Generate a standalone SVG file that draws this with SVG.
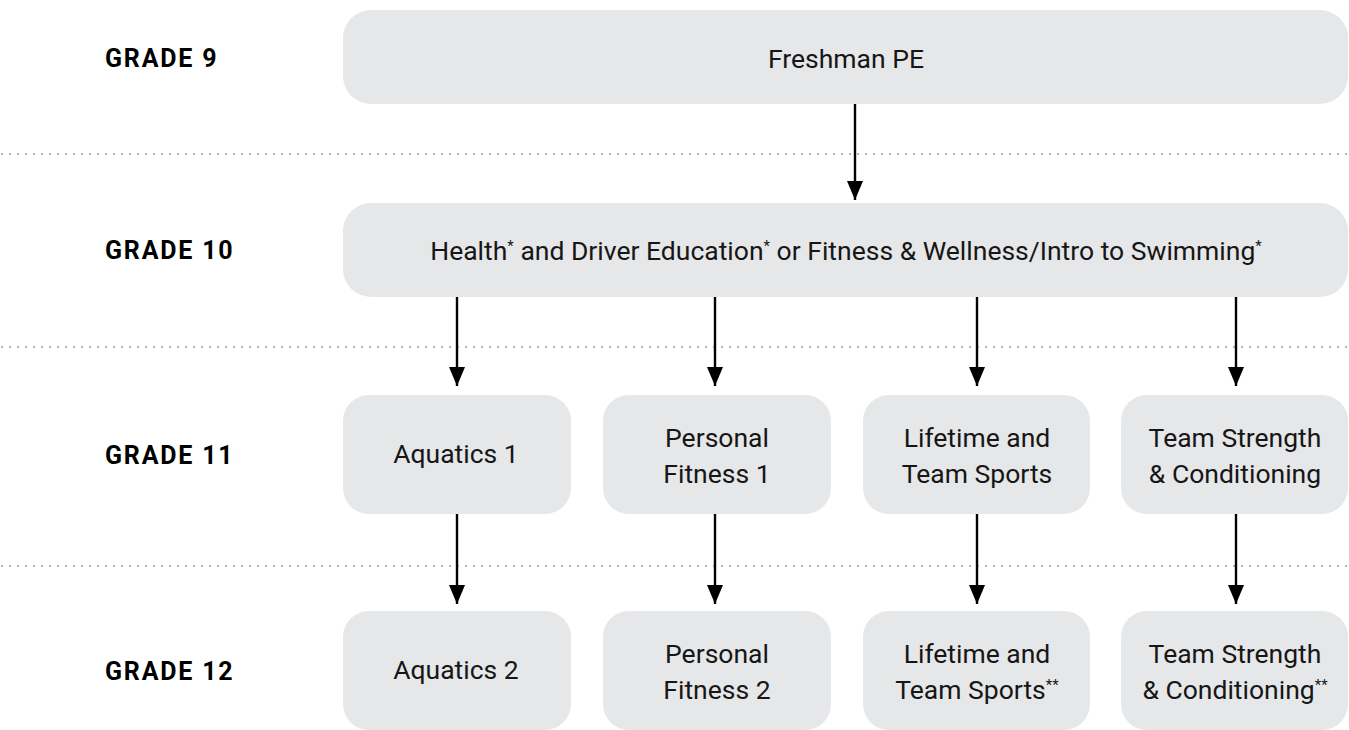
<svg xmlns="http://www.w3.org/2000/svg" width="1349" height="730" viewBox="0 0 1349 730">
<defs>
<style>
.box{fill:#e6e7e9}
.lbl{font-family:Roboto,"Liberation Sans",sans-serif;font-size:26.5px;fill:#161616;text-anchor:middle}
.grade{font-family:Roboto,"Liberation Sans",sans-serif;font-size:25px;font-weight:bold;letter-spacing:1.8px;fill:#000}
.sup{font-size:15px}
.dot{stroke:#b5b5b5;stroke-width:2;stroke-dasharray:2 6;fill:none}
.arr{stroke:#000;stroke-width:2.4;fill:none;marker-end:url(#ah)}
</style>
<marker id="ah" viewBox="0 0 19 16" refX="19" refY="8" markerWidth="19" markerHeight="16" markerUnits="userSpaceOnUse" orient="auto">
<path d="M0,0 L19,8 L0,16 Z" fill="#000"/>
</marker>
</defs>
<g id="separators">
<line class="dot" x1="1" y1="154" x2="1349" y2="154"/>
<line class="dot" x1="1" y1="347" x2="1349" y2="347"/>
<line class="dot" x1="1" y1="566" x2="1349" y2="566"/>
</g>
<g id="labels">
<text class="grade" x="105" y="67">GRADE 9</text>
<text class="grade" x="105" y="259">GRADE 10</text>
<text class="grade" x="105" y="464">GRADE 11</text>
<text class="grade" x="105" y="680">GRADE 12</text>
</g>
<g id="n-freshman"><rect class="box" x="343" y="10" width="1005" height="94" rx="28"/><text class="lbl" x="846" y="68">Freshman PE</text></g>
<g id="n-grade10"><rect class="box" x="343" y="203" width="1005" height="94" rx="28"/><text class="lbl" x="846" y="260">Health<tspan class="sup" dy="-9">*</tspan><tspan dy="9"> and Driver Education</tspan><tspan class="sup" dy="-9">*</tspan><tspan dy="9"> or Fitness &amp; Wellness/Intro to Swimming</tspan><tspan class="sup" dy="-9">*</tspan></text></g>
<g id="n-aq1"><rect class="box" x="343" y="395" width="228" height="119" rx="26"/><text class="lbl" x="456" y="463">Aquatics 1</text></g>
<g id="n-pf1"><rect class="box" x="603" y="395" width="228" height="119" rx="26"/><text class="lbl" x="717" y="447">Personal</text><text class="lbl" x="717" y="483">Fitness 1</text></g>
<g id="n-lts1"><rect class="box" x="863" y="395" width="227" height="119" rx="26"/><text class="lbl" x="977" y="447">Lifetime and</text><text class="lbl" x="977" y="483">Team Sports</text></g>
<g id="n-tsc1"><rect class="box" x="1121" y="395" width="227" height="119" rx="26"/><text class="lbl" x="1235" y="447">Team Strength</text><text class="lbl" x="1235" y="483">&amp; Conditioning</text></g>
<g id="n-aq2"><rect class="box" x="343" y="611" width="228" height="119" rx="26"/><text class="lbl" x="456" y="679">Aquatics 2</text></g>
<g id="n-pf2"><rect class="box" x="603" y="611" width="228" height="119" rx="26"/><text class="lbl" x="717" y="663">Personal</text><text class="lbl" x="717" y="699">Fitness 2</text></g>
<g id="n-lts2"><rect class="box" x="863" y="611" width="227" height="119" rx="26"/><text class="lbl" x="977" y="663">Lifetime and</text><text class="lbl" x="977" y="699">Team Sports<tspan class="sup" dy="-9">**</tspan></text></g>
<g id="n-tsc2"><rect class="box" x="1121" y="611" width="227" height="119" rx="26"/><text class="lbl" x="1235" y="663">Team Strength</text><text class="lbl" x="1235" y="699">&amp; Conditioning<tspan class="sup" dy="-9">**</tspan></text></g>
<g id="connectors">
<line class="arr" x1="855" y1="104" x2="855" y2="200"/>
<line class="arr" x1="457" y1="297" x2="457" y2="386"/>
<line class="arr" x1="715" y1="297" x2="715" y2="386"/>
<line class="arr" x1="977" y1="297" x2="977" y2="386"/>
<line class="arr" x1="1236" y1="297" x2="1236" y2="386"/>
<line class="arr" x1="457" y1="514" x2="457" y2="604"/>
<line class="arr" x1="715" y1="514" x2="715" y2="604"/>
<line class="arr" x1="977" y1="514" x2="977" y2="604"/>
<line class="arr" x1="1236" y1="514" x2="1236" y2="604"/>
</g>
</svg>
